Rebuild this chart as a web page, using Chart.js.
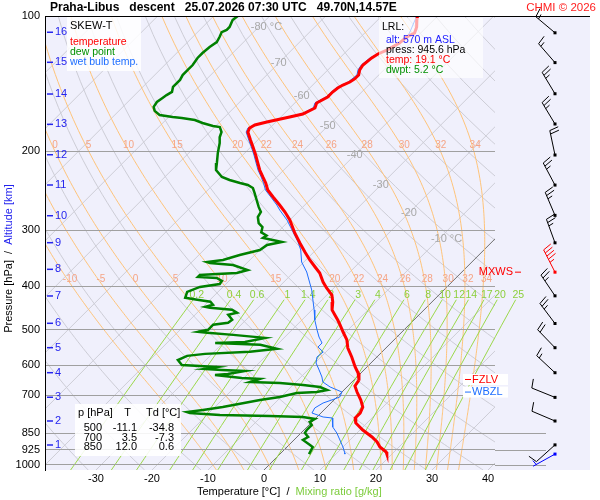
<!DOCTYPE html>
<html lang="cs">
<head>
<meta charset="UTF-8">
<title>SKEW-T Praha-Libus</title>
<script src="https://cdn.jsdelivr.net/npm/chart.js"></script>
<style>
    body { margin: 0; padding: 0; background: #ffffff; }
    #wrap { width: 600px; height: 500px; }
</style>
</head>
<body>
<div id="wrap"><canvas id="skewt" width="600" height="500"></canvas></div>
<script>
// ---- sounding values ----
const tempP = [100, 102.1, 105.8, 109.1, 111.4, 114.9, 119.1, 121.5, 124.0, 128.6, 131.9, 135.3, 138.1, 140.3, 142.5, 144.7, 147.7, 151.5, 156.2, 160.3, 165.3, 167.9, 172.2, 174.9, 177.6, 181.3, 188.9, 195.8, 204.0, 212.5, 220.3, 228.3, 235.5, 244.1, 253.0, 263.6, 273.2, 284.7, 304.3, 320.3, 335.4, 349.5, 362.3, 373.6, 391.2, 403.5, 418.2, 433.5, 451.6, 463.4, 475.4, 487.7, 505.6, 526.7, 548.8, 574.7, 605.0, 623.9, 646.7, 666.9, 687.8, 716.6, 742.8, 766.0, 785.8, 806.2, 835.7, 866.3, 888.7, 911.9, 935.5, 945.6];
const tempT = [-53.6, -53.0, -51.8, -51.1, -51.8, -52.0, -53.0, -53.9, -54.3, -54.6, -54.3, -53.6, -53.6, -53.9, -54.6, -55.0, -55.2, -55.2, -56.1, -55.5, -56.6, -58.4, -61.6, -63.2, -63.6, -63.2, -61.3, -59.6, -57.7, -55.9, -54.3, -52.5, -50.9, -49.3, -47.1, -44.5, -42.3, -40.0, -36.8, -34.1, -31.6, -29.3, -27.1, -25.2, -23.0, -21.3, -19.1, -17.7, -16.4, -15.0, -13.6, -12.3, -10.5, -8.4, -6.8, -4.5, -2.1, -0.5, 0.9, 1.25, 2.7, 4.8, 6.4, 7.0, 7.0, 8.0, 10.5, 13.4, 15.2, 16.6, 18.6, 19.1];

const dewP = [100, 102.1, 105.8, 107.4, 108.6, 111.4, 114.3, 117.2, 120.9, 124.0, 128.6, 131.9, 135.4, 138.8, 143.9, 147.6, 150.0, 152.3, 155.4, 159.4, 162.7, 166.1, 167.9, 168.7, 170.5, 173.1, 175.8, 176.7, 181.3, 186.2, 191.9, 202.0, 212.5, 220.3, 228.3, 231.9, 235.5, 237.9, 241.6, 247.9, 256.9, 266.2, 273.2, 280.3, 289.3, 295.4, 303.3, 308.2, 312.1, 315.4, 318.6, 323.6, 332.0, 340.7, 349.5, 353.1, 354.9, 358.6, 368.0, 373.6, 375.5, 377.4, 381.3, 383.3, 389.2, 395.2, 401.3, 411.6, 424.2, 428.5, 432.9, 439.6, 444.2, 446.4, 451.0, 457.9, 462.6, 474.7, 482.0, 487.1, 500.0, 505.2, 507.8, 513.1, 521.0, 532.0, 534.6, 540.0, 551.2, 559.8, 565.6, 571.4, 583.7, 598.8, 601.9, 605.0, 610.9, 614.0, 617.2, 626.8, 630.3, 640.0, 643.1, 653.3, 656.4, 663.4, 670.3, 680.6, 687.8, 691.2, 705.6, 716.6, 742.8, 754.2, 762.2, 766.0, 773.9, 777.9, 782.0, 790.0, 802.1, 814.5, 835.6, 848.5, 866.3, 879.5, 902.3, 911.9, 945.6];
const dewT = [-85.7, -85.9, -85.2, -85.2, -85.7, -85.2, -84.8, -85.2, -85.4, -85.4, -85.0, -85.0, -85.0, -84.6, -84.6, -83.9, -84.3, -84.5, -84.8, -84.5, -83.6, -82.0, -79.3, -77.5, -74.8, -72.9, -70.5, -69.1, -67.9, -67.3, -66.25, -64.8, -63.2, -62.1, -59.8, -57.9, -55.5, -53.75, -52.3, -51.1, -49.5, -47.9, -46.6, -46.25, -45.0, -43.6, -42.9, -41.4, -41.6, -39.5, -37.5, -39.6, -40.0, -42.7, -44.8, -47.3, -46.6, -42.1, -38.6, -40.0, -43.4, -46.25, -46.25, -42.7, -41.25, -41.1, -44.1, -45.5, -44.8, -42.3, -39.6, -38.6, -39.6, -38.6, -34.3, -32.9, -34.1, -32.5, -32.7, -35.0, -35.0, -36.4, -34.6, -29.6, -23.4, -26.25, -31.4, -23.0, -19.3, -23.6, -31.25, -34.1, -35.0, -33.4, -30.0, -26.8, -28.6, -25.4, -21.1, -23.6, -25.7, -20.4, -17.0, -18.2, -12.7, -8.2, -4.8, -3.0, -4.5, -7.9, -10.2, -13.2, -18.6, -21.6, -24.1, -23.4, -17.7, -8.6, -2.5, 0.0, -0.4, 0.5, 0.5, 0.7, 2.0, 1.6, 3.75, 4.6, 5.2];

const wetP = [100, 108.6, 111.9, 114.9, 119.1, 124.0, 128.6, 131.9, 135.3, 140.3, 144.7, 151.5, 156.2, 160.3, 165.3, 167.9, 172.2, 177.6, 181.3, 188.9, 195.8, 204.0, 212.5, 220.3, 228.3, 235.5, 244.1, 253.0, 263.6, 270.4, 284.7, 302.7, 318.7, 332.0, 353.1, 371.7, 393.2, 407.6, 429.1, 451.6, 475.4, 500.5, 518.8, 534.9, 546.0, 560.2, 574.7, 592.7, 614.4, 636.8, 653.3, 670.3, 687.8, 705.6, 716.6, 727.7, 746.6, 766.0, 781.8, 785.8, 822.9, 848.6, 879.6, 911.9, 940.3, 945.6];
const wetT = [-53.75, -52.1, -51.6, -52.3, -53.3, -54.6, -54.9, -54.6, -53.9, -54.2, -55.3, -55.5, -56.4, -55.8, -56.9, -58.7, -61.9, -63.9, -63.5, -61.6, -59.9, -58.0, -56.2, -54.6, -52.8, -51.3, -49.7, -47.5, -45.0, -43.6, -40.5, -37.3, -34.6, -32.7, -30.4, -27.7, -25.2, -23.6, -21.6, -19.6, -17.7, -15.5, -13.9, -12.3, -12.3, -10.5, -10.7, -9.8, -8.0, -6.25, -5.2, -3.0, 0.0, 0.5, -0.4, -1.4, -2.0, -1.6, 1.1, 2.9, 4.6, 6.4, 8.2, 10.0, 11.4, 11.6];

// wind barbs: surface first, then the km levels (index 8 = max wind)
const windP = [945.6, 902, 798, 707, 623, 548, 484, 420, 372, 320, 278, 238, 204, 174, 149, 127, 109];
const windDir = [241, 228, 293, 292, 313, 316, 323, 326, 333, 340, 337, 332, 348, 329, 329, 319, 310];
const windKt = [5, 10, 10, 10, 15, 20, 25, 25, 45, 25, 25, 25, 20, 25, 25, 15, 15];

const altKm = [1, 2, 3, 4, 5, 6, 7, 8, 9, 10, 11, 12, 13, 14, 15, 16];
const altP = [902.5, 798, 706.6, 622.9, 547.9, 483.5, 420.3, 366.6, 319.8, 278.5, 237.9, 203.7, 174.3, 149.2, 126.8, 108.7];

const tickP = [100, 200, 300, 400, 500, 600, 700, 850, 925, 1000];
const tickT = [-30, -20, -10, 0, 10, 20, 30, 40];

const isoLabelT = [-80, -70, -60, -50, -40, -30, -20, -10];
const isoLabelP = [105.8, 127.3, 150.7, 175.8, 204, 237.9, 274.6, 313.8];

const thetaW = [-10, -5, 0, 5, 10, 15, 20, 22, 24, 26, 28, 30, 32, 34];
const thetaLabelP = [194, 385];
const mixW = [0.2, 0.4, 0.6, 1, 1.4, 2, 3, 4, 6, 8, 10, 12, 14, 17, 20, 25];
const mixTopP = 428.5, mixLabelP = 418;

const tableRows = [["500", "-11.1", "-34.8"], ["700", "3.5", "-7.3"], ["850", "12.0", "0.6"]];
const lrl = { alt: 570, press: 945.6, temp: 19.1, dwpt: 5.2 };
const fzlvP = 645, wbzlP = 688, mxwsP = 372;

// ---- diagram constants ----
const P_TOP = 100, P_BOT = 1026;
const SKEW = 34.8;   // keeps isotherms at 45 degrees
const FONT = "'Liberation Sans', Arial, sans-serif";
const PANEL_RIGHT = 590;

function skewX(t, p) { return t + SKEW * Math.log(P_BOT / p); }
function toPts(ps, ts) { return ps.map((p, i) => ({ x: skewX(ts[i], p), y: p })); }

function es(t) { return 6.112 * Math.exp(17.67 * t / (t + 243.5)); }
function mixTemp(w, p) {
    const e = (w / 1000) * p / (0.622 + w / 1000);
    const l = Math.log(e / 6.112);
    return 243.5 * l / (17.67 - l);
}
function pseudoAdiabat(tw) {
    const Rd = 287.04, Cp = 1005.7, Lv = 2.501e6, eps = 0.622;
    const f = (p, tk) => {
        const e = es(tk - 273.15);
        const rs = eps * e / (p - e);
        return (Rd * tk + Lv * rs) / (p * (Cp + Lv * Lv * rs * eps / (Rd * tk * tk)));
    };
    const rk = (p, tk, h) => {
        const k1 = f(p, tk), k2 = f(p + h / 2, tk + h / 2 * k1);
        const k3 = f(p + h / 2, tk + h / 2 * k2), k4 = f(p + h, tk + h * k3);
        return tk + h / 6 * (k1 + 2 * k2 + 2 * k3 + k4);
    };
    const out = [[1000, tw]];
    let p = 1000, tk = tw + 273.15;
    while (p > P_TOP) { tk = rk(p, tk, -5); p -= 5; out.unshift([p, tk - 273.15]); }
    p = 1000; tk = tw + 273.15;
    while (p < P_BOT) { const h = Math.min(5, P_BOT - p); tk = rk(p, tk, h); p += h; out.push([p, tk - 273.15]); }
    return out;
}
function tempAt(curve, p) {
    for (let i = 1; i < curve.length; i++) {
        if (curve[i][0] >= p) {
            const a = curve[i - 1], b = curve[i];
            return a[1] + (b[1] - a[1]) * (p - a[0]) / (b[0] - a[0]);
        }
    }
    return curve[curve.length - 1][1];
}
const moistCurves = thetaW.map(pseudoAdiabat);

function strokePts(ctx, pts) {
    ctx.beginPath();
    pts.forEach((q, i) => i ? ctx.lineTo(q[0], q[1]) : ctx.moveTo(q[0], q[1]));
    ctx.stroke();
}
function pxFn(chart) {
    const xs = chart.scales.x, ys = chart.scales.y;
    return (t, p) => [xs.getPixelForValue(skewX(t, p)), ys.getPixelForValue(p)];
}
function text(ctx, s, x, y, color, size, align, bold) {
    ctx.font = (bold ? 'bold ' : '') + size + 'px ' + FONT;
    ctx.fillStyle = color;
    ctx.textAlign = align || 'left';
    ctx.textBaseline = 'middle';
    ctx.fillText(s, x, y);
}

function drawBarb(ctx, x0, y0, dir, kt, color) {
    const r = dir * Math.PI / 180;
    const ux = Math.sin(r), uy = -Math.cos(r);
    const bx = -uy, by = ux;
    const L = 25, step = 3.5;
    ctx.strokeStyle = color;
    ctx.fillStyle = color;
    ctx.lineWidth = 1;
    ctx.beginPath();
    ctx.moveTo(x0, y0);
    ctx.lineTo(x0 + ux * L, y0 + uy * L);
    let n10 = Math.floor(kt / 10);
    const n5 = kt % 10 >= 5;
    let d = L;
    for (let i = 0; i < n10; i++) {
        const sx = x0 + ux * d, sy = y0 + uy * d;
        ctx.moveTo(sx, sy);
        ctx.lineTo(sx + bx * 9 + ux * 2, sy + by * 9 + uy * 2);
        d -= step;
    }
    if (n5) {
        if (n10 === 0) d -= step;
        const sx = x0 + ux * d, sy = y0 + uy * d;
        ctx.moveTo(sx, sy);
        ctx.lineTo(sx + bx * 5 + ux * 1, sy + by * 5 + uy * 1);
    }
    ctx.stroke();
    ctx.fillRect(x0 - 1.5, y0 - 1.5, 3, 3);
}

const skewtPlugin = {
    id: 'skewt',
    beforeDraw(chart) {
        const { ctx, chartArea: a } = chart;
        const px = pxFn(chart);
        const ys = chart.scales.y;
        ctx.save();
        ctx.fillStyle = '#ffffff';
        ctx.fillRect(0, 0, chart.width, chart.height);
        ctx.fillStyle = '#f0f0fc';
        ctx.fillRect(a.left, a.top, PANEL_RIGHT - a.left, a.bottom - a.top);

        // low pressure lines run on under the barbs
        ctx.strokeStyle = '#a0a0a0';
        ctx.lineWidth = 1;
        [850, 925, 1000].forEach(p => {
            const y = Math.round(ys.getPixelForValue(p)) + 0.5;
            strokePts(ctx, [[a.right, y], [a.right + 51, y]]);
        });

        ctx.save();
        ctx.beginPath();
        ctx.rect(a.left, a.top, a.right - a.left, a.bottom - a.top);
        ctx.clip();
        // dry adiabats
        ctx.strokeStyle = '#cdcdd6';
        for (let th = 230; th <= 470; th += 10) {
            const pts = [];
            for (let p = P_TOP; p < P_BOT; p += 10) pts.push(px(th * Math.pow(p / 1000, 0.2857) - 273.15, p));
            pts.push(px(th * Math.pow(P_BOT / 1000, 0.2857) - 273.15, P_BOT));
            strokePts(ctx, pts);
        }
        // isotherms
        for (let t = -130; t <= 40; t += 10) {
            ctx.strokeStyle = t === 0 ? '#6e6e6e' : '#cdcdd6';
            strokePts(ctx, [px(t, P_TOP), px(t, P_BOT)]);
        }
        // saturated adiabats
        ctx.strokeStyle = '#ffc47a';
        moistCurves.forEach(c => strokePts(ctx, c.map(q => px(q[1], q[0]))));
        ctx.restore();

        // mixing ratio lines
        ctx.save();
        ctx.beginPath();
        ctx.rect(a.left, a.top, PANEL_RIGHT - a.left, a.bottom - a.top);
        ctx.clip();
        ctx.strokeStyle = '#9bd84a';
        mixW.forEach(w => {
            const pts = [];
            for (let k = 0; k <= 20; k++) {
                const p = mixTopP + (P_BOT - mixTopP) * k / 20;
                pts.push(px(mixTemp(w, p), p));
            }
            strokePts(ctx, pts);
        });
        ctx.restore();
        ctx.restore();
    },
    beforeDatasetsDraw(chart) {
        const { ctx, chartArea: a } = chart;
        const px = pxFn(chart);
        ctx.save();
        // isotherm labels
        isoLabelT.forEach((t, i) => {
            const q = px(t, isoLabelP[i]);
            ctx.font = '11px ' + FONT;
            const w = ctx.measureText(String(t)).width;
            const s = (i === 0 || i === isoLabelT.length - 1) ? t + ' °C' : String(t);
            text(ctx, s, q[0] - w / 2, q[1], '#a8a8a8', 11, 'left');
        });
        // saturated adiabat labels
        thetaLabelP.forEach(p => {
            thetaW.forEach((tw, i) => {
                const q = px(tempAt(moistCurves[i], p), p);
                const x = q[0] + 3;
                if (x > a.left + 5 && x < a.right - 4) text(ctx, String(tw), x, q[1], '#f5a586', 10, 'center');
            });
        });
        // mixing ratio labels
        mixW.forEach(w => {
            const q = px(mixTemp(w, mixLabelP), mixLabelP);
            text(ctx, String(w), q[0], q[1], '#8ccf3c', 10.5, 'center');
        });
        ctx.restore();
    },
    afterDatasetsDraw(chart) {
        const { ctx, chartArea: a } = chart;
        const ys = chart.scales.y;
        ctx.save();

        // top border across plot and barb column
        ctx.strokeStyle = '#000';
        ctx.lineWidth = 1;
        strokePts(ctx, [[a.left, a.top + 0.5], [PANEL_RIGHT, a.top + 0.5]]);

        // legend box
        ctx.fillStyle = 'rgba(255,255,255,0.85)';
        ctx.fillRect(67, 17, 74, 54);
        text(ctx, 'SKEW-T', 70, 26, '#000', 11);
        text(ctx, 'temperature', 70, 42, '#ff0000', 10.5);
        text(ctx, 'dew point', 70, 52, '#009000', 10.5);
        text(ctx, 'wet bulb temp.', 70, 62, '#1e6eff', 10.5);

        // lowest reported level box
        ctx.fillStyle = 'rgba(255,255,255,0.65)';
        ctx.fillRect(379, 18, 104, 60);
        text(ctx, 'LRL:', 382, 27, '#000', 10.5);
        text(ctx, 'alt: ' + lrl.alt + ' m ASL', 386, 40, '#1a1aff', 10.5);
        text(ctx, 'press: ' + lrl.press.toFixed(1) + ' hPa', 386, 50, '#000', 10.5);
        text(ctx, 'temp: ' + lrl.temp.toFixed(1) + ' °C', 386, 60, '#ff0000', 10.5);
        text(ctx, 'dwpt: ' + lrl.dwpt.toFixed(1) + ' °C', 386, 70, '#009000', 10.5);

        // standard level table
        ctx.fillStyle = 'rgba(255,255,255,0.88)';
        ctx.fillRect(75, 404, 106, 52);
        text(ctx, 'p [hPa]', 78, 413, '#000', 11);
        text(ctx, 'T', 127.5, 413, '#000', 11, 'center');
        text(ctx, 'Td [°C]', 146, 413, '#000', 11);
        tableRows.forEach((r, i) => {
            const y = 428 + i * 9.7;
            text(ctx, r[0], 102, y, '#000', 11, 'right');
            text(ctx, r[1], 137, y, '#000', 11, 'right');
            text(ctx, r[2], 174, y, '#000', 11, 'right');
        });

        // freezing / wet bulb zero levels
        [[fzlvP, 'FZLV', '#ff0000'], [wbzlP, 'WBZL', '#1e6eff']].forEach(([p, s, c]) => {
            const y = ys.getPixelForValue(p);
            ctx.fillStyle = '#ffffff';
            ctx.fillRect(463, y - 5.5, 45, 11);
            ctx.strokeStyle = c;
            strokePts(ctx, [[465, y], [471, y]]);
            text(ctx, s, 472, y, c, 11);
        });
        const ym = ys.getPixelForValue(mxwsP);
        text(ctx, 'MXWS', 513, ym, '#ff0000', 11, 'right');
        ctx.strokeStyle = '#ff0000';
        strokePts(ctx, [[515, ym], [521, ym]]);

        // altitude marks
        altKm.forEach((km, i) => {
            const y = ys.getPixelForValue(altP[i]);
            ctx.strokeStyle = '#2424ee';
            ctx.lineWidth = 1.5;
            strokePts(ctx, [[47, y], [53, y]]);
            text(ctx, String(km), 55, y, '#2424ee', 11);
        });

        // wind barbs
        windP.forEach((p, i) => {
            const c = i === 0 ? '#0000ff' : (i === 8 ? '#ff0000' : '#000000');
            drawBarb(ctx, a.right + 60, ys.getPixelForValue(p), windDir[i], windKt[i], c);
        });

        // titles
        text(ctx, 'Praha-Libus   descent   25.07.2026 07:30 UTC   49.70N,14.57E', 50, 8, '#000', 12, 'left', true);
        text(ctx, 'CHMI © 2026', 596, 8, '#ff2020', 11.5, 'right');

        // x axis title
        ctx.font = '11px ' + FONT;
        let x = 197;
        [['Temperature [°C]', '#000'], ['  /  ', '#000'], ['Mixing ratio [g/kg]', '#7ccc3c']].forEach(([s, c]) => {
            text(ctx, s, x, 492, c, 11);
            x += ctx.measureText(s).width;
        });
        // y axis title
        ctx.translate(9, 258.5);
        ctx.rotate(-Math.PI / 2);
        const parts = [['Pressure [hPa]', '#000'], ['  /  ', '#000'], ['Altitude [km]', '#2424ee']];
        ctx.font = '11px ' + FONT;
        const total = parts.reduce((s, q) => s + ctx.measureText(q[0]).width, 0);
        x = -total / 2;
        parts.forEach(([s, c]) => {
            text(ctx, s, x, 0, c, 11);
            x += ctx.measureText(s).width;
        });
        ctx.restore();
    }
};

new Chart(document.getElementById('skewt'), {
    type: 'scatter',
    data: {
        datasets: [
            { label: 'temperature', data: toPts(tempP, tempT), borderColor: '#ff0000', borderWidth: 3,
              showLine: true, pointRadius: 0, fill: false, tension: 0, order: 0 },
            { label: 'dew point', data: toPts(dewP, dewT), borderColor: '#008000', borderWidth: 2.5,
              showLine: true, pointRadius: 0, fill: false, tension: 0, order: 1 },
            { label: 'wet bulb temp.', data: toPts(wetP, wetT), borderColor: '#1e6eff', borderWidth: 1,
              showLine: true, pointRadius: 0, fill: false, tension: 0, order: 2 }
        ]
    },
    options: {
        responsive: false,
        animation: false,
        layout: { padding: { left: 0, right: 105, top: 16, bottom: 0 } },
        plugins: { legend: { display: false }, tooltip: { enabled: false } },
        scales: {
            x: {
                type: 'linear', min: -39.1, max: 41.25,
                afterBuildTicks: s => { s.ticks = tickT.map(v => ({ value: v })); },
                afterFit: s => { s.height = 30; },
                grid: { display: false, drawTicks: false },
                border: { display: false },
                ticks: { color: '#000', font: { size: 11, family: FONT }, padding: 2, maxRotation: 0, autoSkip: false,
                         callback: v => String(v) }
            },
            y: {
                type: 'logarithmic', reverse: true, min: P_TOP, max: P_BOT,
                afterBuildTicks: s => { s.ticks = tickP.map(v => ({ value: v })); },
                afterFit: s => { s.width = 45; },
                grid: { color: c => (c.tick && c.tick.value === 100) ? '#000000' : '#a0a0a0', drawTicks: false, lineWidth: 1 },
                border: { display: true, color: '#000', width: 1 },
                ticks: { color: '#000', font: { size: 11, family: FONT }, padding: 5, autoSkip: false,
                         callback: v => String(v) }
            }
        }
    },
    plugins: [skewtPlugin]
});
</script>
</body>
</html>
